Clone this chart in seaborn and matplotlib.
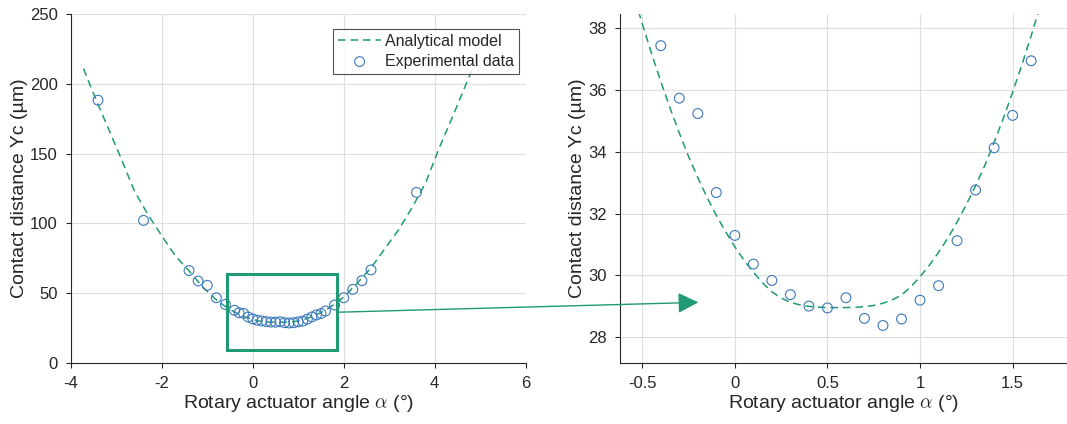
"""
Contact distance vs rotary actuator angle, with a zoomed inset panel
"""

import numpy as np
import pandas as pd
import matplotlib
matplotlib.use("Agg")
import matplotlib.pyplot as plt
from matplotlib.lines import Line2D
from matplotlib.patches import Rectangle, ConnectionPatch
import seaborn as sns

# Analytical model
model_x = [-3.72, -3.5, -3.2, -2.9, -2.6, -2.3, -2.0, -1.7, -1.4, -1.1, -0.8,
           -0.60, -0.55, -0.50, -0.45, -0.40, -0.35, -0.30, -0.25, -0.20, -0.15,
           -0.10, -0.05, 0.00, 0.05, 0.10, 0.15, 0.20, 0.25, 0.30, 0.35,
           0.40, 0.45, 0.50, 0.55, 0.60, 0.65, 0.70, 0.75, 0.80, 0.85,
           0.90, 0.95, 1.00, 1.05, 1.10, 1.15, 1.20, 1.25, 1.30, 1.35,
           1.40, 1.45, 1.50, 1.55, 1.60, 1.65, 1.70, 1.75, 1.80,
           2.0, 2.3, 2.6, 2.9, 3.2, 3.5, 3.8, 4.1, 4.4, 4.83]
model_y = [211, 193, 170, 147, 123, 106, 91, 76.5, 65.8, 54.2, 45.0,
           40.2, 39.16, 38.15, 37.19, 36.28, 35.42, 34.61, 33.85, 33.16, 32.52,
           31.94, 31.41, 30.92, 30.48, 30.10, 29.75, 29.46, 29.26, 29.12, 29.04,
           28.99, 28.965, 28.952, 28.95, 28.952, 28.958, 28.98, 29.02, 29.09, 29.2,
           29.36, 29.62, 29.95, 30.32, 30.74, 31.2, 31.72, 32.29, 32.9, 33.56,
           34.3, 35.09, 35.93, 36.82, 37.76, 38.75, 39.79, 40.85, 41.9,
           47.0, 57, 68, 81.5, 95, 111, 129, 154, 177, 211]

# Experimental data
exp_x = [-3.4, -2.4, -1.4, -1.2, -1.0, -0.8, -0.6,
         -0.4, -0.3, -0.2, -0.1, 0.0, 0.1, 0.2, 0.3, 0.4, 0.5, 0.6, 0.7, 0.8, 0.9,
         1.0, 1.1, 1.2, 1.3, 1.4, 1.5, 1.6,
         1.8, 2.0, 2.2, 2.4, 2.6, 3.6]
exp_y = [188.3, 102.0, 66.0, 58.5, 55.4, 46.5, 41.7,
         37.44, 35.74, 35.24, 32.68, 31.29, 30.36, 29.83, 29.37, 29.0, 28.94, 29.27, 28.60, 28.37, 28.58,
         29.19, 29.66, 31.12, 32.76, 34.13, 35.18, 36.95,
         41.3, 46.5, 52.5, 58.8, 66.5, 122.1]

left_xticks = [-4, -2, 0, 2, 4, 6]
left_yticks = [0, 50, 100, 150, 200, 250]
right_xticks = [-0.5, 0, 0.5, 1, 1.5]
right_xticklabels = ['-0.5', '0', '0.5', '1', '1.5']
right_yticks = [28, 30, 32, 34, 36, 38]

x_label = r'Rotary actuator angle $\alpha$ (°)'
y_label = 'Contact distance Yc (µm)'

GREEN = '#1f9a74'
BLUE = '#3b78bb'
TEXT = '#262626'
DASH = (5.0, 3.2)

sns.set_theme(style='white')
plt.rcParams['font.family'] = ['Liberation Sans', 'DejaVu Sans']
plt.rcParams['mathtext.fontset'] = 'cm'
plt.rcParams['axes.unicode_minus'] = False
plt.rcParams['xtick.direction'] = 'out'
plt.rcParams['ytick.direction'] = 'out'

model = pd.DataFrame({'x': model_x, 'y': model_y})
exp = pd.DataFrame({'x': exp_x, 'y': exp_y})

fig = plt.figure(figsize=(10.67, 4.24), dpi=100)
ax1 = fig.add_axes([0.0663, 0.145, 0.4264, 0.8215])
ax2 = fig.add_axes([0.5811, 0.145, 0.4200, 0.8215])


def draw(ax, legend):
    sns.lineplot(data=model, x='x', y='y', ax=ax, color=GREEN, lw=1.1,
                 label='Analytical model' if legend else None, sort=False)
    ax.lines[-1].set_dashes(DASH)
    sc = sns.scatterplot(data=exp, x='x', y='y', ax=ax, marker='o', s=50,
                         label='Experimental data' if legend else None, zorder=3)
    pts = sc.collections[-1]
    pts.set_facecolor('none')
    pts.set_edgecolor(BLUE)
    pts.set_linewidth(0.8)
    ax.grid(True, color='#dedede', lw=0.8)
    ax.set_axisbelow(True)
    for s in ['top', 'right']:
        ax.spines[s].set_visible(False)
    for s in ['left', 'bottom']:
        ax.spines[s].set_color(TEXT)
        ax.spines[s].set_linewidth(0.8)
    ax.tick_params(axis='both', colors=TEXT, labelsize=12, length=3.5, width=0.8,
                   bottom=True, left=True, pad=6)
    ax.set_xlabel(x_label, fontsize=14, color=TEXT, labelpad=2)
    ax.set_ylabel(y_label, fontsize=14, color=TEXT, labelpad=1.5)


draw(ax1, True)
ax1.set_xlim(-4, 6)
ax1.set_ylim(0, 250)
ax1.set_xticks(left_xticks)
ax1.set_yticks(left_yticks)
ax1.set_xticklabels([str(v) for v in left_xticks])
handles, labels = ax1.get_legend_handles_labels()
leg = ax1.legend(handles, labels, loc='upper left', bbox_to_anchor=(0.577, 0.957),
                 borderaxespad=0, fontsize=11.5, frameon=True, fancybox=False,
                 handlelength=2.7, borderpad=0.3, labelspacing=0.3,
                 handletextpad=0.25)
leg.get_frame().set_edgecolor(TEXT)
leg.get_frame().set_linewidth(0.8)
for h in leg.legend_handles:
    if isinstance(h, Line2D):
        h.set_dashes(DASH)
    else:
        h.set_facecolor('none')
        h.set_edgecolor(BLUE)

draw(ax2, False)
ax2.set_xlim(-0.62, 1.80)
ax2.set_ylim(27.17, 38.46)
ax2.set_xticks(right_xticks)
ax2.set_yticks(right_yticks)
ax2.set_xticklabels(right_xticklabels)
ax2.set_yticklabels([str(v) for v in right_yticks])

# zoom box on the left panel
ax1.add_patch(Rectangle((-0.57, 9), 2.43, 54.6, fill=False, edgecolor=GREEN,
                        lw=2.2, zorder=4))

# arrow from the box to the right panel
con = ConnectionPatch(xyA=(1.87, 36.1), coordsA=ax1.transData,
                      xyB=(-0.197, 29.12), coordsB=ax2.transData,
                      arrowstyle='-|>,head_length=0.9,head_width=0.45',
                      color=GREEN, lw=1.0, mutation_scale=14, zorder=5)
fig.add_artist(con)

fig.savefig('out.png', dpi=100)
plt.close(fig)
